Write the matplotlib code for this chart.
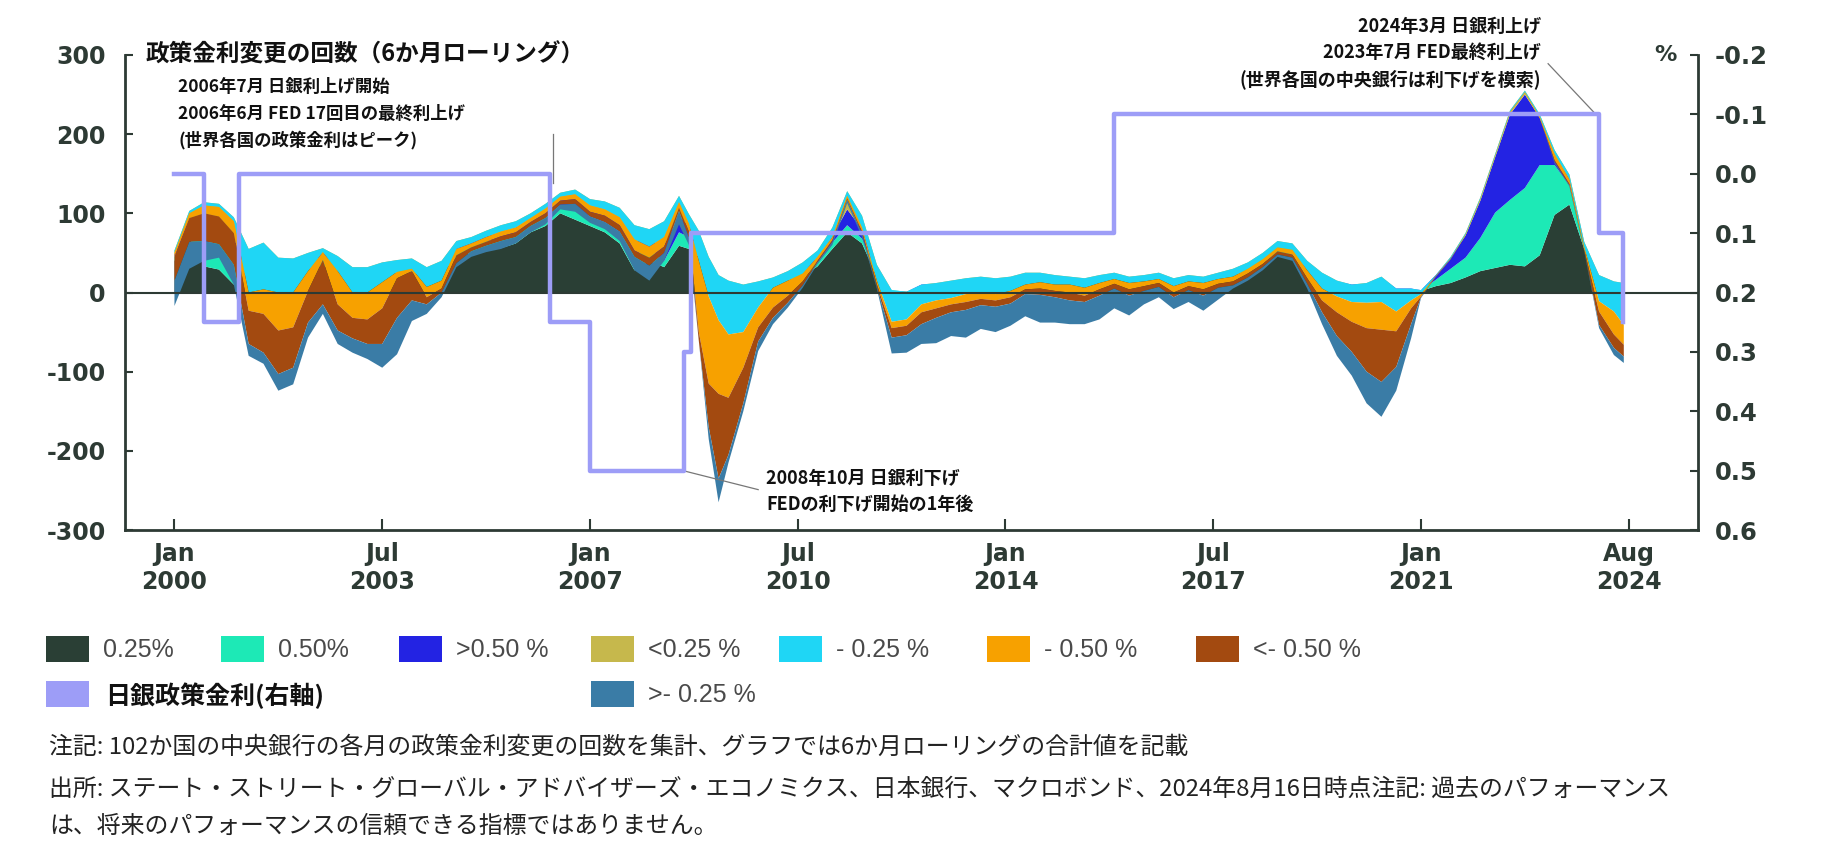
import matplotlib
matplotlib.use("Agg")
import matplotlib.pyplot as plt
from matplotlib.patches import Rectangle
import numpy as np

plt.rcParams['font.family'] = ['Noto Sans CJK JP', 'DejaVu Sans']
plt.rcParams['axes.unicode_minus'] = False

# months since Jan 2000
months = [0, 3, 6, 9, 12, 15, 18, 21, 24, 27, 30, 33, 36, 39, 42, 45, 48, 51, 54, 57,
          60, 63, 66, 69, 72, 75, 78, 81, 84, 87, 90, 93, 96, 99, 102, 104, 106, 108, 110, 112,
          115, 118, 121, 124, 127, 130, 133, 136, 139, 142, 145, 148, 151, 154, 157, 160, 163, 166, 169, 172,
          175, 178, 181, 184, 187, 190, 193, 196, 199, 202, 205, 208, 211, 214, 217, 220, 223, 226, 229, 232,
          235, 238, 241, 244, 247, 250, 252, 255, 258, 261, 264, 267, 270, 273, 276, 279, 282, 285, 288, 291,
          293]

# hikes (counts, 6m rolling)
hike_025 = [40, 70, 33, 29, 10, 30, 35, 26, 25, 30, 34, 28, 19, 19, 23, 25, 26, 19, 24, 45,
            50, 55, 56, 62, 76, 84, 100, 92, 84, 76, 62, 28, 40, 32, 59, 55, 45, 27, 13, 9,
            6, 8, 11, 16, 20, 33, 55, 76, 62, 20, 2, 1, 7, 8, 10, 12, 14, 12, 14, 18,
            18, 16, 14, 13, 16, 18, 14, 16, 18, 13, 16, 14, 18, 22, 28, 38, 50, 48, 30, 18,
            10, 7, 8, 12, 3, 3, 2, 8, 12, 19, 27, 31, 35, 33, 47, 98, 111, 55, 15, 10,
            8]
hike_050 = [5, 15, 30, 35, 30, 12, 14, 9, 9, 10, 11, 9, 7, 7, 8, 8, 9, 7, 8, 10,
            8, 10, 12, 12, 10, 12, 10, 14, 12, 13, 15, 20, 15, 8, 17, 15, 13, 9, 5, 3,
            2, 3, 4, 5, 8, 5, 8, 9, 6, 5, 1, 0, 2, 2, 3, 4, 4, 4, 4, 5,
            5, 4, 4, 3, 4, 5, 4, 4, 5, 3, 4, 4, 5, 6, 8, 9, 11, 10, 6, 4,
            3, 2, 2, 5, 1, 1, 1, 8, 18, 25, 42, 70, 82, 99, 114, 63, 25, 5, 4, 2,
            2]
hike_gt050 = [3, 8, 25, 22, 25, 6, 7, 4, 4, 5, 5, 4, 3, 3, 3, 4, 4, 3, 4, 5,
              6, 6, 8, 8, 7, 8, 8, 12, 11, 13, 15, 17, 10, 20, 20, 14, 10, 5, 2, 2,
              1, 2, 2, 3, 5, 5, 8, 20, 12, 5, 0, 0, 1, 1, 1, 1, 1, 1, 1, 1,
              1, 1, 1, 1, 1, 1, 1, 1, 1, 1, 1, 1, 1, 1, 1, 2, 2, 2, 2, 2,
              1, 1, 1, 2, 1, 1, 0, 6, 14, 28, 47, 70, 108, 118, 60, 12, 8, 2, 2, 1,
              1]
hike_lt025 = [5, 10, 26, 26, 30, 7, 7, 5, 5, 5, 6, 5, 3, 3, 4, 4, 4, 3, 4, 5,
              6, 7, 9, 8, 7, 8, 8, 12, 11, 13, 15, 20, 15, 30, 26, 15, 10, 4, 2, 1,
              1, 1, 2, 3, 5, 10, 11, 23, 17, 5, 0, 0, 0, 1, 1, 1, 1, 1, 1, 1,
              1, 1, 1, 1, 1, 1, 1, 1, 1, 1, 1, 1, 1, 1, 1, 1, 2, 2, 2, 1,
              1, 0, 1, 1, 0, 0, 0, 0, 1, 3, 4, 4, 5, 5, 4, 7, 5, 2, 1, 1,
              1]

# cuts (counts, drawn downward)
cut_025 = [3, 3, 4, 4, 5, 55, 59, 44, 43, 23, 5, 19, 32, 32, 25, 15, 13, 25, 25, 10,
           8, 8, 8, 8, 6, 6, 5, 6, 8, 10, 12, 18, 22, 20, 8, 12, 38, 50, 57, 68,
           60, 33, 13, 12, 14, 8, 12, 6, 15, 20, 40, 35, 25, 22, 22, 20, 20, 20, 18, 15,
           12, 12, 10, 12, 10, 8, 8, 8, 8, 10, 8, 8, 8, 10, 8, 8, 8, 8, 12, 20,
           20, 22, 25, 32, 29, 15, 5, 1, 2, 2, 2, 2, 2, 2, 3, 5, 6, 6, 33, 38,
           53]
cut_050 = [5, 6, 10, 12, 15, 23, 31, 48, 44, 25, 10, 42, 32, 34, 33, 8, 3, 13, 10, 8,
           5, 6, 6, 6, 5, 6, 5, 6, 8, 8, 10, 14, 14, 12, 7, 10, 90, 110, 93, 80,
           45, 25, 25, 19, 10, 5, 4, 3, 5, 5, 8, 8, 10, 10, 8, 10, 8, 8, 8, 6,
           8, 8, 10, 10, 8, 6, 8, 6, 5, 8, 6, 8, 6, 6, 6, 6, 5, 6, 10, 15,
           20, 25, 32, 35, 25, 10, 3, 1, 1, 1, 1, 1, 1, 1, 2, 8, 6, 4, 13, 29,
           25]
cut_gt050 = [30, 30, 35, 35, 40, 42, 49, 55, 51, 40, 56, 33, 26, 31, 45, 50, 37, 9, 5, 10,
             5, 5, 6, 6, 5, 6, 5, 6, 6, 8, 8, 8, 10, 8, 4, 8, 11, 55, 107, 72,
             45, 18, 13, 9, 5, 2, 2, 2, 3, 3, 12, 12, 15, 12, 10, 10, 8, 8, 8, 6,
             8, 8, 10, 8, 8, 6, 8, 6, 5, 6, 5, 8, 5, 5, 5, 4, 4, 4, 7, 15,
             30, 38, 55, 66, 45, 20, 1, 0, 0, 0, 0, 0, 0, 0, 0, 2, 2, 1, 17, 17,
             15]
cut_lt025 = [32, 34, 25, 17, 25, 15, 14, 21, 21, 19, 12, 17, 18, 19, 30, 46, 26, 12, 6, 5,
             7, 8, 10, 8, 8, 8, 6, 10, 8, 9, 12, 17, 19, 10, 17, 9, 0, 15, 30, 10,
             10, 12, 8, 6, 3, 2, 4, 4, 4, 2, 20, 22, 25, 32, 30, 35, 30, 32, 28, 28,
             35, 32, 30, 28, 30, 25, 25, 17, 13, 15, 15, 19, 15, 4, 4, 4, 3, 4, 6, 15,
             25, 30, 40, 44, 30, 18, 1, 0, 0, 0, 0, 0, 0, 0, 0, 2, 1, 1, 4, 9,
             8]

# BoJ policy rate (right axis)
boj_months = [0, 6, 13, 76, 84, 103, 104.5, 190, 288, 292.8]
boj_rate = [0.0, 0.25, 0.0, 0.25, 0.5, 0.3, 0.1, -0.1, 0.1, 0.25]

x_ticks = [0, 42, 84, 126, 168, 210, 252, 294]
x_labels = ['Jan\n2000', 'Jul\n2003', 'Jan\n2007', 'Jul\n2010', 'Jan\n2014',
            'Jul\n2017', 'Jan\n2021', 'Aug\n2024']
left_ticks = [-300, -200, -100, 0, 100, 200, 300]
right_ticks = [-0.2, -0.1, 0.0, 0.1, 0.2, 0.3, 0.4, 0.5, 0.6]
right_labels = ['-0.2', '-0.1', '0.0', '0.1', '0.2', '0.3', '0.4', '0.5', '0.6']

series_labels = ['0.25%', '0.50%', '>0.50 %', '<0.25 %', '- 0.25 %', '- 0.50 %', '<- 0.50 %', '>- 0.25 %']
colors = ['#2a3f35', '#1de9b6', '#2323e3', '#c6b84c', '#1fd6f5', '#f7a100', '#a34a10', '#3a7ca6']
boj_color = '#9d9df7'
axis_color = '#2d3a34'

W, H = 1828, 858
def fx(px):
    return px / W
def fy(py):
    return 1 - py / H

fig = plt.figure(figsize=(W / 100, H / 100), dpi=100)
ax = fig.add_axes([fx(125), fy(530), (1698 - 125) / W, (530 - 55) / H])

ax.stackplot(months, hike_025, hike_050, hike_gt050, hike_lt025,
             np.negative(cut_025), np.negative(cut_050), np.negative(cut_gt050), np.negative(cut_lt025),
             colors=colors, linewidth=0)
ax.axhline(0, color=axis_color, lw=1.5, zorder=3)

ax.set_xlim(-10, 308)
ax.set_ylim(-300, 300)
ax.set_yticks(left_ticks)
ax.set_xticks(x_ticks, x_labels)
ax.tick_params(axis='y', direction='in', length=6, width=1.5, pad=14, labelsize=17, colors=axis_color)
ax.tick_params(axis='x', direction='in', length=8, width=1.5, pad=9, labelsize=17, colors=axis_color)
for lab in ax.get_yticklabels() + ax.get_xticklabels():
    lab.set_fontfamily('DejaVu Sans')
    lab.set_fontweight('bold')
for s in ['top', 'right']:
    ax.spines[s].set_visible(False)
for s in ['left', 'bottom']:
    ax.spines[s].set_color(axis_color)
    ax.spines[s].set_linewidth(2)

ax2 = ax.twinx()
ax2.plot(boj_months, boj_rate, drawstyle='steps-post', color=boj_color, lw=3.2)
ax2.set_ylim(0.6, -0.2)
ax2.set_yticks(right_ticks, right_labels)
ax2.tick_params(axis='y', direction='in', length=6, width=1.5, pad=12, labelsize=17.5, colors=axis_color)
for lab in ax2.get_yticklabels():
    lab.set_fontfamily('DejaVu Sans')
    lab.set_fontweight('bold')
for s in ['top', 'left', 'bottom']:
    ax2.spines[s].set_visible(False)
ax2.spines['right'].set_color(axis_color)
ax2.spines['right'].set_linewidth(2)

# titles and notes
fig.text(fx(146), fy(55), '政策金利変更の回数（6か月ローリング）', fontsize=17, fontweight='bold',
         va='center', ha='left', color='#111111')
fig.text(fx(1665), fy(55), '%', fontsize=16, fontweight='bold', va='center', ha='center',
         color=axis_color, family='DejaVu Sans')

ann1 = ['2006年7月 日銀利上げ開始', '2006年6月 FED 17回目の最終利上げ', '(世界各国の政策金利はピーク)']
for line, py in zip(ann1, [87, 114, 140]):
    fig.text(fx(178), fy(py), line, fontsize=12.5, fontweight='bold', va='center', ha='left', color='#111111')
ann2 = ['2024年3月 日銀利上げ', '2023年7月 FED最終利上げ', '(世界各国の中央銀行は利下げを模索)']
for line, py in zip(ann2, [26, 52, 79]):
    fig.text(fx(1541), fy(py), line, fontsize=13, fontweight='bold', va='center', ha='right', color='#111111')
ann3 = ['2008年10月 日銀利下げ', 'FEDの利下げ開始の1年後']
for line, py in zip(ann3, [478, 504]):
    fig.text(fx(766), fy(py), line, fontsize=13, fontweight='bold', va='center', ha='left', color='#111111')

ax.plot([76.5, 76.5], [138, 200], color='#777777', lw=0.9, clip_on=False, zorder=4)
ax.plot([277.7, 287.2], [289, 226], color='#777777', lw=0.9, clip_on=False, zorder=4)
ax.plot([102.8, 118], [-225, -249], color='#777777', lw=0.9, clip_on=False, zorder=4)

# legend
row1 = [(46, 0), (221, 1), (399, 2), (591, 3), (779, 4), (987, 5), (1196, 6)]
for px, i in row1:
    fig.add_artist(Rectangle((fx(px), fy(662)), 43 / W, 26 / H, transform=fig.transFigure,
                             color=colors[i], lw=0))
    fig.text(fx(px + 57), fy(650), series_labels[i], fontsize=18, va='center', ha='left',
             color='#4a4a4a', family='Liberation Sans')
fig.add_artist(Rectangle((fx(46), fy(707)), 43 / W, 26 / H, transform=fig.transFigure,
                         color=boj_color, lw=0))
fig.text(fx(105), fy(696), '日銀政策金利(右軸)', fontsize=18, fontweight='bold', va='center',
         ha='left', color='#111111')
fig.add_artist(Rectangle((fx(591), fy(707)), 43 / W, 26 / H, transform=fig.transFigure,
                         color=colors[7], lw=0))
fig.text(fx(648), fy(695), series_labels[7], fontsize=18, va='center', ha='left',
         color='#4a4a4a', family='Liberation Sans')

notes = ['注記: 102か国の中央銀行の各月の政策金利変更の回数を集計、グラフでは6か月ローリングの合計値を記載',
         '出所: ステート・ストリート・グローバル・アドバイザーズ・エコノミクス、日本銀行、マクロボンド、2024年8月16日時点注記: 過去のパフォーマンス',
         'は、将来のパフォーマンスの信頼できる指標ではありません。']
for line, py in zip(notes, [747, 789, 826]):
    fig.text(fx(49), fy(py), line, fontsize=17.2, va='center', ha='left', color='#222222')

fig.savefig('out.png', dpi=100)
